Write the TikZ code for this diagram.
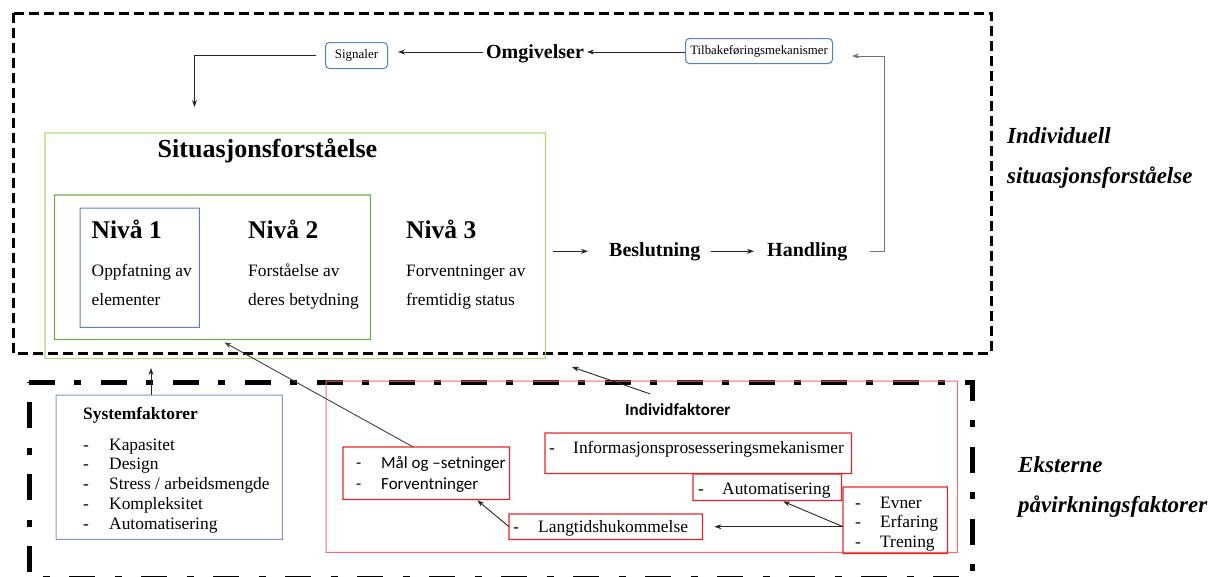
\documentclass[tikz,border=0pt]{standalone}
\usepackage{fontspec}
\setmainfont{Liberation Serif}
\newfontfamily\calibrifont{Carlito}
\usetikzlibrary{arrows.meta}
\newcommand{\setsz}[1]{\fontsize{#1pt}{#1pt}\selectfont}
% frame of a named box, filled as a ring: node, colour, rule width
\newcommand{\ringframe}[3]{%
  \fill[#2, even odd rule]
    ([shift={(-#3/2,-#3/2)}]#1.north west) rectangle ([shift={(#3/2,#3/2)}]#1.south east)
    ([shift={(#3/2,#3/2)}]#1.north west) rectangle ([shift={(-#3/2,-#3/2)}]#1.south east);}

\definecolor{nivblue}{RGB}{91,130,185}
\definecolor{sysblue}{RGB}{125,155,198}
\definecolor{rndblue}{RGB}{84,130,190}
\definecolor{gouter}{RGB}{168,218,118}
\definecolor{ginner}{RGB}{112,175,72}
\definecolor{redbig}{RGB}{255,105,105}
\definecolor{redsmall}{RGB}{232,35,40}

\tikzset{
  conn/.style={draw=black!85, line width=0.9pt, -{Stealth[length=7pt,width=5pt]}},
  lbl/.style={inner sep=0pt, anchor=base west},
  plainbox/.style={inner sep=0pt, anchor=north west},
  rndbox/.style={plainbox, draw=rndblue, rounded corners=4pt, line width=1pt},
}

\begin{document}
\begin{tikzpicture}[x=1pt,y=-1pt]
\useasboundingbox (0,0) rectangle (1218,576);

% frames of the two groups
\draw[line width=3pt, dash pattern=on 10pt off 5pt] (13,13) rectangle (991,353);
\draw[line width=5pt, dash pattern=on 26pt off 19pt on 7pt off 20pt]
  (29,382) -- (972,382) -- (972,578) -- (29,578) -- cycle;

% top row: signals, environment, feedback
\node[rndbox, minimum width=62pt, minimum height=26pt] (sig) at (325,42) {};
\node at (sig.center) {\setsz{13}Signaler};
\node[lbl, anchor=base, inner sep=3pt] (omg) at (535,58) {\setsz{20}\bfseries Omgivelser};
\node[rndbox, minimum width=147pt, minimum height=25pt] (tilb) at (685,38) {};
\node at (tilb.center) {\setsz{12.8}Tilbakeføringsmekanismer};

\coordinate (toprow) at (0,52);
\draw[conn] (tilb.west |- toprow) -- (omg.east |- toprow);
\draw[conn] (omg.west |- toprow) -- ([xshift=10pt]sig.east |- toprow);
\coordinate (sitin) at (194.5,107);
\draw[conn] ([xshift=-9pt]sig.west) -| (sitin);

% situation awareness block
\node[plainbox, minimum width=500pt, minimum height=225pt] (sa) at (45,133) {};
\node[lbl, anchor=base] (satitle) at (267.5,157) {\setsz{26}\bfseries Situasjonsforståelse};
\node[plainbox, minimum width=315.5pt, minimum height=144pt] (inner) at (54.5,195) {};
\node[plainbox, minimum width=119pt, minimum height=119pt] (niv1box) at (80,208) {};
\ringframe{sa}{gouter}{1.2}
\ringframe{inner}{ginner}{1.2}
\ringframe{niv1box}{nivblue}{1}

\node[lbl] (n1) at (91.5,238) {\setsz{25.5}\bfseries Nivå 1};
\node[lbl] (n1a) at (91.5,276) {\setsz{17.4}Oppfatning av};
\node[lbl] (n1b) at (91.5,305) {\setsz{17.4}elementer};
\node[lbl] (n2) at (248,238) {\setsz{25.5}\bfseries Nivå 2};
\node[lbl] (n2a) at (248,276) {\setsz{17.4}Forståelse av};
\node[lbl] (n2b) at (248,305) {\setsz{17.4}deres betydning};
\node[lbl] (n3) at (406,238) {\setsz{25.5}\bfseries Nivå 3};
\node[lbl] (n3a) at (406,276) {\setsz{17.4}Forventninger av};
\node[lbl] (n3b) at (406,305) {\setsz{17.4}fremtidig status};

% decision and action
\node[lbl] (besl) at (609,256) {\setsz{20}\bfseries Beslutning};
\node[lbl] (hand) at (767,256) {\setsz{20}\bfseries Handling};
\draw[conn] ([xshift=8pt]sa.east |- besl.west) -- ([xshift=-21pt]besl.west);
\draw[conn] ([xshift=10pt]besl.east) -- ([xshift=-13pt]hand.west);
\coordinate (fbtop) at (884,56);
\coordinate (fbend) at (852,56);
\draw[conn, draw=black!55] ([xshift=23pt]hand.east) -| (fbtop) -- (fbend);

% group labels
\node[lbl] (ind1) at (1007,143) {\setsz{23}\bfseries\itshape Individuell};
\node[lbl] (ind2) at (1007,183) {\setsz{23}\bfseries\itshape situasjonsforståelse};
\node[lbl] (ext1) at (1018,472) {\setsz{23}\bfseries\itshape Eksterne};
\node[lbl] (ext2) at (1018,512) {\setsz{23}\bfseries\itshape påvirkningsfaktorer};

% system factors
\node[plainbox, minimum width=226pt, minimum height=144pt] (sys) at (56,395) {};
\ringframe{sys}{sysblue}{1}
\node[lbl] (systitle) at (83,419) {\setsz{17.4}\bfseries Systemfaktorer};
\foreach \i/\t in {0/Kapasitet,1/Design,2/{Stress / arbeidsmengde},3/Kompleksitet,4/Automatisering}{
  \node[lbl] (sysd\i) at (83,450+19.8*\i) {\setsz{17.4}-};
  \node[lbl] (syst\i) at (109,450+19.8*\i) {\setsz{17.4}\t};
}
\coordinate (sysup) at (151,368);
\draw[conn] (sysup |- sys.north) -- (sysup);

% individual factors
\node[plainbox, minimum width=631pt, minimum height=171pt] (indf) at (326,381) {};
\ringframe{indf}{redbig}{1}
\node[lbl] (indt) at (625,415) {\calibrifont\setsz{17}\bfseries Individfaktorer};
\coordinate (indtip) at (572,367);
\draw[conn] ([xshift=25pt,yshift=9pt]indt.north west) -- (indtip);

\node[plainbox, minimum width=166pt, minimum height=52pt] (mal) at (343,447) {};
\node[plainbox, minimum width=306pt, minimum height=40pt] (info) at (545,433) {};
\node[plainbox, minimum width=148pt, minimum height=26pt] (auto) at (693,474) {};
\node[plainbox, minimum width=104pt, minimum height=66pt] (evn) at (843,487) {};
\node[plainbox, minimum width=193pt, minimum height=25pt] (lang) at (509,514) {};
\foreach \b in {mal,info,auto,evn,lang}{\ringframe{\b}{redsmall}{1.3}}

\node[lbl] (mald1) at (356,468) {\calibrifont\setsz{17}-};
\node[lbl] (malt1) at (381,468) {\calibrifont\setsz{17}Mål og –setninger};
\node[lbl] (mald2) at (356,489) {\calibrifont\setsz{17}-};
\node[lbl] (malt2) at (381,489) {\calibrifont\setsz{17}Forventninger};

\node[lbl] (infod) at (549,453) {\setsz{17.4}-};
\node[lbl] (infot) at (573,453) {\setsz{17.4}Informasjonsprosesseringsmekanismer};

\node[lbl] (autod) at (698,494) {\setsz{17.4}-};
\node[lbl] (autot) at (722,494) {\setsz{17.4}Automatisering};

\foreach \i/\t in {0/Evner,1/Erfaring,2/Trening}{
  \node[lbl] (evnd\i) at (855,508+19.5*\i) {\setsz{17.4}-};
  \node[lbl] (evnt\i) at (880,508+19.5*\i) {\setsz{17.4}\t};
}

\node[lbl] (langd) at (513,532) {\setsz{17.4}-};
\node[lbl] (langt) at (538,532) {\setsz{17.4}Langtidshukommelse};

% influence arrows
\draw[conn, draw=black!75] ([xshift=-13pt]mal.north) -- ([xshift=12pt,yshift=-3pt]inner.south);
\draw[conn] (lang.west) -- ([xshift=-32pt,yshift=-1pt]mal.south east);
\draw[conn] (evn.west |- lang.east) -- ([xshift=12pt]lang.east);
\draw[conn] (evn.west |- lang.east) -- ([xshift=16pt,yshift=-1pt]auto.south);
\end{tikzpicture}
\end{document}
